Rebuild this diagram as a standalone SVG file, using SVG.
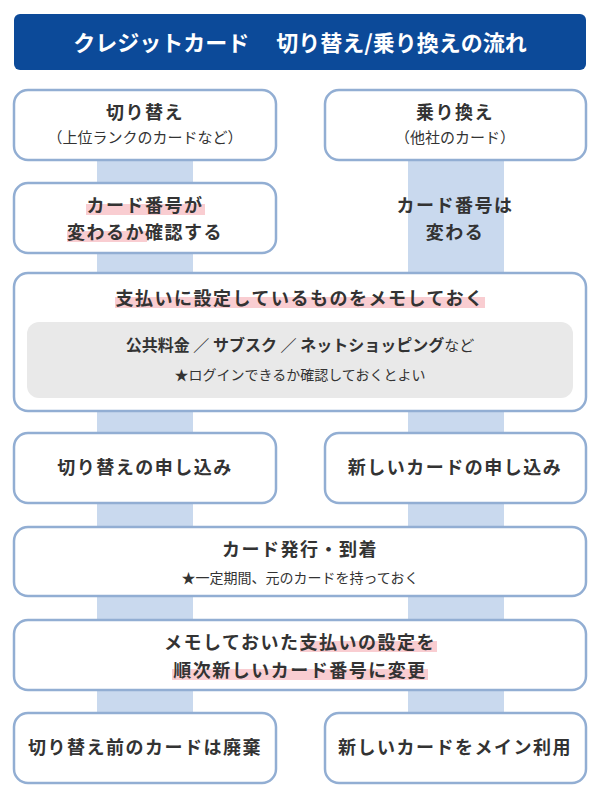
<svg xmlns="http://www.w3.org/2000/svg" width="600" height="803" viewBox="0 0 600 803">
<style>
text{font-family:"Noto Sans CJK JP","Noto Sans",sans-serif;fill:#333;text-anchor:middle}
.b{font-weight:bold;font-size:18px;letter-spacing:1.5px}
.s{font-size:14px}
.box{fill:#fff;stroke:#92aed3;stroke-width:2.5}
.hl{fill:#f9cdd1}
.strip{fill:#c9d9ee}
</style>
<rect width="600" height="803" fill="#fff"/>
<g id="strips">
<rect class="strip" x="97" y="150" width="96" height="570"/>
<rect class="strip" x="408" y="150" width="96" height="570"/>
</g>
<g id="title">
<rect x="14" y="14" width="572" height="56" rx="6" fill="#0c4a99"/>
<text x="300" y="51" style="fill:#fff;font-weight:bold;font-size:22px">クレジットカード　 切り替え/乗り換えの流れ</text>
</g>
<g id="n1"><rect class="box" x="14" y="90" width="262" height="70" rx="14"/>
<text class="b" x="145" y="119">切り替え</text><text x="145" y="143" style="font-size:15px">（上位ランクのカードなど）</text></g>
<g id="n2"><rect class="box" x="325" y="90" width="261" height="70" rx="14"/>
<text class="b" x="455" y="119">乗り換え</text><text x="455" y="143" style="font-size:15px">（他社のカード）</text></g>
<g id="n3"><rect class="box" x="14" y="183" width="262" height="70" rx="14"/>
<rect class="hl" x="86" y="204" width="119" height="11"/>
<rect class="hl" x="67" y="231" width="80" height="11"/>
<text class="b" x="145" y="212">カード番号が</text><text class="b" x="145" y="239">変わるか確認する</text></g>
<g id="n4"><text class="b" x="455" y="212">カード番号は</text><text class="b" x="455" y="239">変わる</text></g>
<g id="n5"><rect class="box" x="14" y="273" width="572" height="138" rx="14"/>
<rect class="hl" x="115" y="297" width="370" height="11"/>
<text class="b" x="300" y="305">支払いに設定しているものをメモしておく</text>
<rect x="27" y="322" width="546" height="76" rx="12" fill="#e9e9e9"/>
<text x="300" y="351" style="font-weight:bold;font-size:16px">公共料金 ／ サブスク ／ ネットショッピング<tspan style="font-weight:normal;font-size:15px">など</tspan></text>
<text class="s" x="300" y="380">★ログインできるか確認しておくとよい</text></g>
<g id="n6"><rect class="box" x="14" y="433" width="262" height="70" rx="14"/><text class="b" x="145" y="474">切り替えの申し込み</text></g>
<g id="n7"><rect class="box" x="325" y="433" width="261" height="70" rx="14"/><text class="b" x="455" y="474">新しいカードの申し込み</text></g>
<g id="n8"><rect class="box" x="14" y="527" width="572" height="69" rx="14"/>
<text class="b" x="300" y="556">カード発行・到着</text><text class="s" x="300" y="583">★一定期間、元のカードを持っておく</text></g>
<g id="n9"><rect class="box" x="14" y="620" width="572" height="70" rx="14"/>
<rect class="hl" x="300" y="641" width="137" height="11"/>
<rect class="hl" x="172" y="669" width="256" height="11"/>
<text class="b" x="300" y="649">メモしておいた支払いの設定を</text>
<text class="b" x="300" y="677">順次新しいカード番号に変更</text></g>
<g id="n10"><rect class="box" x="14" y="713" width="262" height="70" rx="14"/><text class="b" x="145" y="754">切り替え前のカードは廃棄</text></g>
<g id="n11"><rect class="box" x="325" y="713" width="261" height="70" rx="14"/><text class="b" x="455" y="754">新しいカードをメイン利用</text></g>
<g id="connectors"></g>
</svg>
